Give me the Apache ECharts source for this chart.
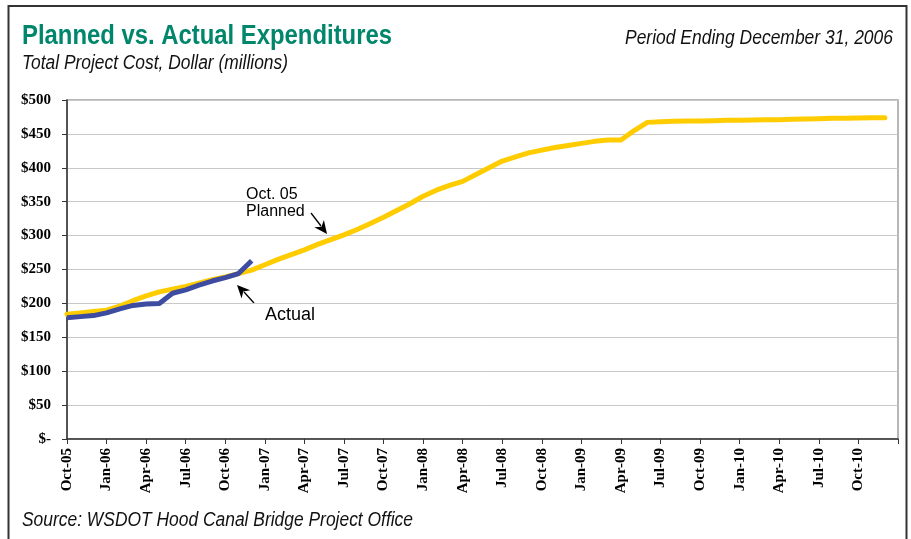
<!DOCTYPE html>
<html>
<head>
<meta charset="utf-8">
<script src="https://cdn.jsdelivr.net/npm/echarts@6/dist/echarts.min.js"></script>
<style>
html,body{margin:0;padding:0;background:#fff;}
#chart{width:911px;height:539px;}
</style>
</head>
<body>
<div id="chart"></div>
<script>
const categories = [
  'Oct-05','Nov-05','Dec-05','Jan-06','Feb-06','Mar-06','Apr-06','May-06','Jun-06','Jul-06','Aug-06','Sep-06',
  'Oct-06','Nov-06','Dec-06','Jan-07','Feb-07','Mar-07','Apr-07','May-07','Jun-07','Jul-07','Aug-07','Sep-07',
  'Oct-07','Nov-07','Dec-07','Jan-08','Feb-08','Mar-08','Apr-08','May-08','Jun-08','Jul-08','Aug-08','Sep-08',
  'Oct-08','Nov-08','Dec-08','Jan-09','Feb-09','Mar-09','Apr-09','May-09','Jun-09','Jul-09','Aug-09','Sep-09',
  'Oct-09','Nov-09','Dec-09','Jan-10','Feb-10','Mar-10','Apr-10','May-10','Jun-10','Jul-10','Aug-10','Sep-10',
  'Oct-10','Nov-10','Dec-10','Jan-11'
];
const plannedValues = [
  184,186,188,190,196,204,211,217,221,225,230,235,
  239,244,249,257,265,272,279,287,294,301,309,318,
  327,337,347,358,367,374,380,390,400,410,416,422,
  426,430,433,436,439,441,441,455,467,468,468.5,469,
  469,469.5,470,470,470.5,471,471,471.5,472,472.5,473,473,
  473.5,474,474
];
const actualValues = [
  179,180.5,182,186,192,197,199,200,215,220,227,233,
  238,244,263
];
const yTicks = [0,50,100,150,200,250,300,350,400,450,500];

const chart = echarts.init(document.getElementById('chart'));

function arrowHead(tx, ty, fx, fy, len, half) {
  const dx = tx - fx, dy = ty - fy;
  const d = Math.sqrt(dx*dx + dy*dy);
  const ux = dx/d, uy = dy/d;
  const px = -uy, py = ux;
  const bx = tx - ux*len, by = ty - uy*len;
  const mx = tx - ux*len*0.7, my = ty - uy*len*0.7;
  return [[tx,ty],[bx+px*half,by+py*half],[mx,my],[bx-px*half,by-py*half]];
}

const measureCtx = document.createElement('canvas').getContext('2d');
function fitText(text, font, x, yMid, targetWidth, color) {
  measureCtx.font = font;
  const w = measureCtx.measureText(text).width;
  return {
    type: 'text', x: x, y: yMid, scaleX: targetWidth / w, originX: 0, originY: 0,
    style: {text: text, font: font, fill: color, verticalAlign: 'middle', align: 'left'},
    silent: true
  };
}

const sans = '"Liberation Sans", Arial, sans-serif';
const serif = '"Liberation Serif", "Times New Roman", serif';

chart.setOption({
  animation: false,
  backgroundColor: '#fff',
  grid: {left: 67, right: 13, top: 100, bottom: 100, show: true, borderColor: '#a0a0a0', borderWidth: 1.5},
  xAxis: {
    type: 'category',
    data: categories,
    boundaryGap: false,
    axisLine: {lineStyle: {color: '#333', width: 1.5}},
    axisTick: {show: true, length: 5, interval: function(i){ return i % 3 === 0; }, lineStyle: {color: '#333'}},
    axisLabel: {
      rotate: 90,
      interval: function(i){ return i % 3 === 0 && i < 63; },
      fontFamily: serif,
      fontWeight: 'bold',
      fontSize: 15,
      color: '#000',
      margin: 9
    },
    splitLine: {show: false}
  },
  yAxis: {
    type: 'value',
    min: yTicks[0],
    max: yTicks[yTicks.length-1],
    interval: 50,
    axisLine: {show: true, lineStyle: {color: '#333', width: 1.5}},
    axisTick: {show: true, length: 5, lineStyle: {color: '#333'}},
    axisLabel: {
      formatter: function(v){ return v === 0 ? '$-' : '$' + v; },
      fontFamily: serif,
      fontWeight: 'bold',
      fontSize: 15,
      color: '#000',
      margin: 16
    },
    splitLine: {lineStyle: {color: '#c8c8c8', width: 1}}
  },
  series: [
    {
      name: 'Planned',
      type: 'line',
      data: plannedValues,
      symbol: 'none',
      lineStyle: {color: '#FFCC00', width: 5, cap: 'round', join: 'round'},
      z: 2
    },
    {
      name: 'Actual',
      type: 'line',
      data: actualValues,
      symbol: 'none',
      lineStyle: {color: '#3D4BA0', width: 5, cap: 'butt', join: 'round'},
      z: 3
    }
  ],
  graphic: [
    {type: 'rect', shape: {x: 8.5, y: 6, width: 898, height: 545}, style: {fill: 'none', stroke: '#333', lineWidth: 2}, silent: true},
    fitText('Planned vs. Actual Expenditures', 'bold 28px ' + sans, 22, 36.5, 370, '#00866B'),
    fitText('Total Project Cost, Dollar (millions)', 'italic 20px ' + sans, 22, 63, 266, '#111'),
    fitText('Period Ending December 31, 2006', 'italic 20px ' + sans, 625, 38, 268, '#111'),
    fitText('Source: WSDOT Hood Canal Bridge Project Office', 'italic 20px ' + sans, 22, 520, 391, '#111'),
    {type: 'text', x: 246, y: 194.5, style: {text: 'Oct. 05', font: '16px ' + sans, fill: '#000', verticalAlign: 'middle'}},
    {type: 'text', x: 246, y: 211.5, style: {text: 'Planned', font: '16px ' + sans, fill: '#000', verticalAlign: 'middle'}},
    {type: 'text', x: 265, y: 315.5, style: {text: 'Actual', font: '18px ' + sans, fill: '#000', verticalAlign: 'middle'}},
    {type: 'line', shape: {x1: 311, y1: 213, x2: 321, y2: 226}, style: {stroke: '#000', lineWidth: 1.3}},
    {type: 'polygon', shape: {points: arrowHead(327, 234, 311, 213, 13, 6)}, style: {fill: '#000'}},
    {type: 'line', shape: {x1: 254, y1: 303, x2: 244, y2: 292}, style: {stroke: '#000', lineWidth: 1.3}},
    {type: 'polygon', shape: {points: arrowHead(237, 285, 254, 303, 13, 6)}, style: {fill: '#000'}}
  ]
});
</script>
</body>
</html>
